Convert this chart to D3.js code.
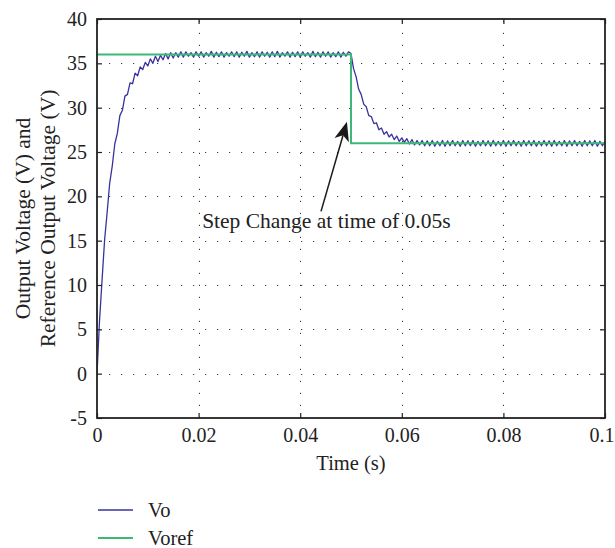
<!DOCTYPE html>
<html>
<head>
<meta charset="utf-8">
<script src="https://cdn.jsdelivr.net/npm/d3@7"></script>
<style>
  body { margin: 0; background: #fff; }
  svg { display: block; }
  text { font-family: "Liberation Serif", "DejaVu Serif", serif; fill: #222; }
</style>
</head>
<body>
<svg id="chart" width="615" height="548"></svg>
<script>
// Output voltage Vo, sampled every 0.5 ms from 0 to 0.1 s
const sampleInterval = 0.0005;
const voValues = [
  0, 6.0, 10.6, 15.1, 18.2, 21.5, 23.4, 25.9, 27.1, 29.1,
  29.7, 31.3, 31.5, 32.8, 32.7, 33.9, 33.6, 34.6, 34.3, 35.1,
  34.7, 35.5, 35.0, 35.8, 35.2, 35.9, 35.4, 36.1, 35.5, 36.2,
  35.6, 36.2, 35.7, 36.3, 35.7, 36.3, 35.8, 36.2, 35.7, 36.3,
  35.8, 36.3, 35.7, 36.2, 35.8, 36.35, 35.7, 36.25, 35.75, 36.3,
  35.7, 36.2, 35.8, 36.3, 35.75, 36.3, 35.7, 36.25, 35.8, 36.35,
  35.7, 36.2, 35.75, 36.3, 35.7, 36.3, 35.8, 36.25, 35.7, 36.3,
  35.75, 36.35, 35.7, 36.2, 35.8, 36.3, 35.7, 36.25, 35.75, 36.3,
  35.7, 36.3, 35.8, 36.2, 35.7, 36.35, 35.75, 36.25, 35.7, 36.3,
  35.8, 36.3, 35.7, 36.2, 35.75, 36.3, 35.7, 36.25, 35.8, 36.3,
  36.1, 34.4, 33.5, 32.1, 31.5, 30.4, 30.1, 29.1, 29.0, 28.2,
  28.3, 27.5, 27.7, 27.0, 27.3, 26.7, 27.0, 26.4, 26.8, 26.2,
  26.6, 26.1, 26.5, 25.9, 26.4, 25.8, 26.3, 25.8, 26.3, 25.7,
  26.25, 25.7, 26.3, 25.65, 26.2, 25.7, 26.3, 25.65, 26.25, 25.7,
  26.3, 25.7, 26.2, 25.65, 26.3, 25.7, 26.25, 25.7, 26.3, 25.65,
  26.2, 25.7, 26.3, 25.7, 26.25, 25.65, 26.3, 25.7, 26.2, 25.7,
  26.3, 25.65, 26.25, 25.7, 26.3, 25.7, 26.2, 25.65, 26.3, 25.7,
  26.25, 25.7, 26.3, 25.65, 26.2, 25.7, 26.3, 25.7, 26.25, 25.65,
  26.3, 25.7, 26.2, 25.7, 26.3, 25.65, 26.25, 25.7, 26.3, 25.7,
  26.2, 25.65, 26.3, 25.7, 26.25, 25.7, 26.3, 25.65, 26.2, 25.7,
  26.2
];

// Reference output voltage Voref: step from 36 V to 26 V at 0.05 s
const refTimes = [0, 0.05, 0.05, 0.1];
const refValues = [36, 36, 26, 26];

const seriesNames = ["Vo", "Voref"];
const seriesColors = ["#37339c", "#3cb878"];

const xTicks = [0, 0.02, 0.04, 0.06, 0.08, 0.1];
const xTickLabels = ["0", "0.02", "0.04", "0.06", "0.08", "0.1"];
const yTicks = [-5, 0, 5, 10, 15, 20, 25, 30, 35, 40];
const yTickLabels = ["-5", "0", "5", "10", "15", "20", "25", "30", "35", "40"];

const xTitle = "Time (s)";
const yTitleLines = ["Output Voltage (V) and", "Reference Output Voltage (V)"];

// Annotation: text anchor and arrow tail/tip in data units
const noteText = "Step Change at time of 0.05s";
const notePos = [0.0207, 16.4];
const arrowTail = [0.0441, 18.3];
const arrowTip = [0.0492, 28.4];

// ---------------------------------------------------------------
const svg = d3.select("#chart");
const plot = { left: 97, right: 605, top: 19, bottom: 418 };
const tickFont = 20, titleFont = 21.5, legendFont = 20.5;

const x = d3.scaleLinear().domain([0, 0.1]).range([plot.left, plot.right]);
const y = d3.scaleLinear().domain([-5, 40]).range([plot.bottom, plot.top]);

svg.append("defs").append("clipPath").attr("id", "plot-clip")
  .append("rect")
  .attr("x", plot.left).attr("y", plot.top)
  .attr("width", plot.right - plot.left).attr("height", plot.bottom - plot.top);

// dotted grid
const grid = svg.append("g").attr("stroke", "#3a3a3a").attr("stroke-width", 1)
  .attr("stroke-dasharray", "1.2,10.8");
grid.selectAll("line.gx").data(xTicks.slice(1, -1)).join("line")
  .attr("x1", d => Math.round(x(d)) + 0.5).attr("x2", d => Math.round(x(d)) + 0.5)
  .attr("y1", plot.bottom).attr("y2", plot.top);
grid.selectAll("line.gy").data(yTicks.slice(1, -1)).join("line")
  .attr("y1", d => Math.round(y(d)) + 0.5).attr("y2", d => Math.round(y(d)) + 0.5)
  .attr("x1", plot.left).attr("x2", plot.right);

// series
const lines = svg.append("g").attr("clip-path", "url(#plot-clip)").attr("fill", "none");
const voLine = d3.line().x((d, i) => x(i * sampleInterval)).y(d => y(d));
lines.append("path").datum(voValues)
  .attr("d", voLine)
  .attr("stroke", seriesColors[0]).attr("stroke-width", 1.3)
  .attr("stroke-linejoin", "round");
const refLine = d3.line().x((d, i) => x(refTimes[i])).y(d => y(d));
lines.append("path").datum(refValues)
  .attr("d", refLine)
  .attr("stroke", seriesColors[1]).attr("stroke-width", 2);

// axes: inward ticks on all four sides
function styleAxis(g) {
  g.select(".domain").remove();
  g.selectAll(".tick line").attr("stroke", "#222").attr("stroke-width", 1.2);
  g.selectAll(".tick text").attr("font-size", tickFont).attr("fill", "#222")
    .attr("font-family", '"Liberation Serif", "DejaVu Serif", serif');
}
const xAxis = svg.append("g").attr("transform", `translate(0,${plot.bottom})`)
  .call(d3.axisBottom(x).tickValues(xTicks).tickFormat((d, i) => xTickLabels[i])
    .tickSizeInner(-5).tickSizeOuter(0).tickPadding(10))
  .call(styleAxis);
// the last label sits at the right edge of the figure: keep it inside the page
xAxis.selectAll(".tick text").filter(d => d === xTicks[xTicks.length - 1])
  .attr("text-anchor", "end").attr("x", 614 - plot.right);
svg.append("g").attr("transform", `translate(0,${plot.top})`)
  .call(d3.axisTop(x).tickValues(xTicks).tickFormat("").tickSizeInner(-5).tickSizeOuter(0))
  .call(styleAxis);
svg.append("g").attr("transform", `translate(${plot.left},0)`)
  .call(d3.axisLeft(y).tickValues(yTicks).tickFormat((d, i) => yTickLabels[i])
    .tickSizeInner(-5).tickSizeOuter(0).tickPadding(10))
  .call(styleAxis);
svg.append("g").attr("transform", `translate(${plot.right},0)`)
  .call(d3.axisRight(y).tickValues(yTicks).tickFormat("").tickSizeInner(-5).tickSizeOuter(0))
  .call(styleAxis);

// frame
svg.append("rect")
  .attr("x", plot.left).attr("y", plot.top)
  .attr("width", plot.right - plot.left).attr("height", plot.bottom - plot.top)
  .attr("fill", "none").attr("stroke", "#222").attr("stroke-width", 1.8);

// axis titles
svg.append("text")
  .attr("x", (plot.left + plot.right) / 2).attr("y", 470)
  .attr("text-anchor", "middle").attr("font-size", legendFont)
  .text(xTitle);
const yMid = (plot.top + plot.bottom) / 2;
yTitleLines.forEach((line, i) => {
  svg.append("text")
    .attr("transform", `translate(${22 + i * 25},${yMid}) rotate(-90)`)
    .attr("text-anchor", "middle").attr("dy", "0.35em")
    .attr("font-size", titleFont)
    .text(line);
});

// annotation arrow
const tail = [x(arrowTail[0]), y(arrowTail[1])];
const tip = [x(arrowTip[0]), y(arrowTip[1])];
const dx = tip[0] - tail[0], dy = tip[1] - tail[1];
const len = Math.hypot(dx, dy);
const ux = dx / len, uy = dy / len, nx = -uy, ny = ux;
const headL = 19, headW = 7.5, notch = 5;
const back = [tip[0] - ux * (headL - notch), tip[1] - uy * (headL - notch)];
svg.append("line")
  .attr("x1", tail[0]).attr("y1", tail[1]).attr("x2", back[0]).attr("y2", back[1])
  .attr("stroke", "#1a1a1a").attr("stroke-width", 1.5);
svg.append("path")
  .attr("d", d3.line()([
    tip,
    [tip[0] - ux * headL + nx * headW, tip[1] - uy * headL + ny * headW],
    back,
    [tip[0] - ux * headL - nx * headW, tip[1] - uy * headL - ny * headW]
  ]) + "Z")
  .attr("fill", "#1a1a1a");
svg.append("text")
  .attr("x", x(notePos[0])).attr("y", y(notePos[1]))
  .attr("font-size", titleFont)
  .text(noteText);

// legend
const legend = svg.append("g");
seriesNames.forEach((name, i) => {
  const ly = 510 + i * 28;
  legend.append("line")
    .attr("x1", 98).attr("x2", 133).attr("y1", ly).attr("y2", ly)
    .attr("stroke", seriesColors[i]).attr("stroke-width", i === 0 ? 1.5 : 2);
  legend.append("text")
    .attr("x", 148).attr("y", ly).attr("dy", "0.33em")
    .attr("font-size", legendFont)
    .text(name);
});
</script>
</body>
</html>
